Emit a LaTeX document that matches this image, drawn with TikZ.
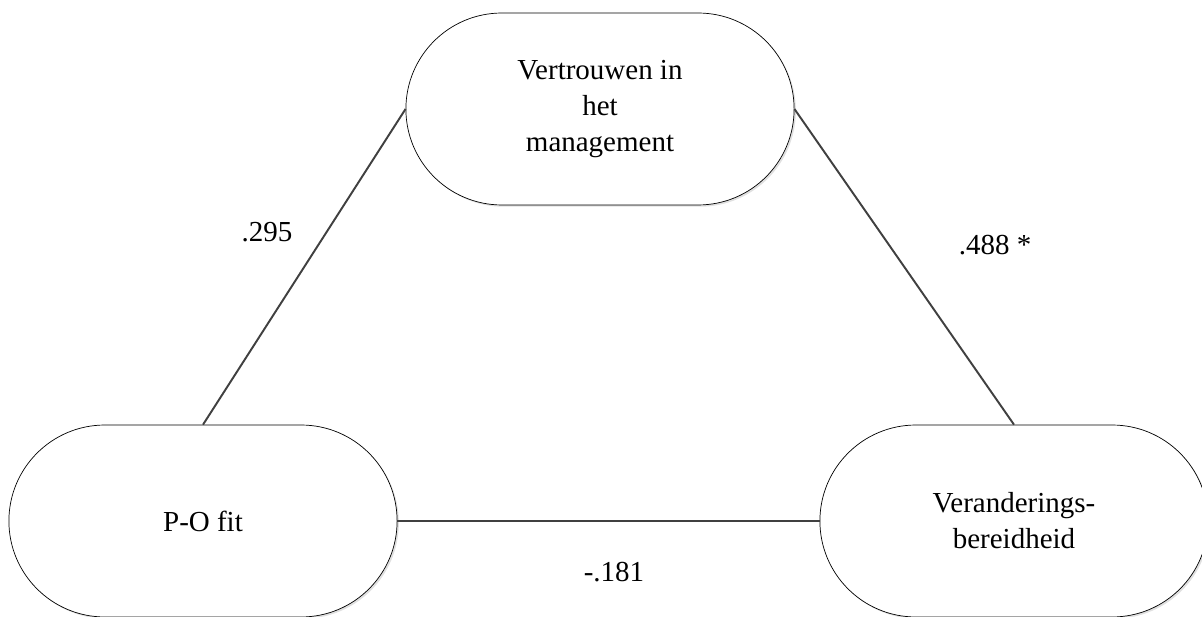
\documentclass[tikz,border=0pt]{standalone}
\usepackage{fontspec}
\setmainfont{Liberation Serif}
\usetikzlibrary{shapes.misc}
\usetikzlibrary{shadows}

\begin{document}
\begin{tikzpicture}[x=0.02cm,y=-0.02cm,
  factor/.style={rounded rectangle,draw,thin,fill=white,minimum width=8cm,minimum height=3.84cm,align=center,font=\fontsize{16.5}{20.5}\selectfont,drop shadow={shadow xshift=1pt,shadow yshift=-1pt,fill=black!12,opacity=1}},
  relation/.style={draw=black!75,line width=1.1pt},
  coef/.style={font=\fontsize{16.5}{20.5}\selectfont}]
  \clip (0,0) rectangle (1202,617);

  %top
  \node[factor] (vertrouwen) at (600,109) {Vertrouwen in\\het\\management};
  %left
  \node[factor] (pofit) at (203,521) {P-O fit};
  %right
  \node[factor] (verandering) at (1014,521) {Veranderings-\\bereidheid};

  \draw[relation] (pofit.north) -- (vertrouwen.west);
  \draw[relation] (vertrouwen.east) -- (verandering.north);
  \draw[relation] (pofit.east) -- (verandering.west);

  \node[coef] (c1) at (267,232) {.295};
  \node[coef] (c2) at (995,245) {.488 *};
  \node[coef] (c3) at (614,572) {-.181};
\end{tikzpicture}
\end{document}
